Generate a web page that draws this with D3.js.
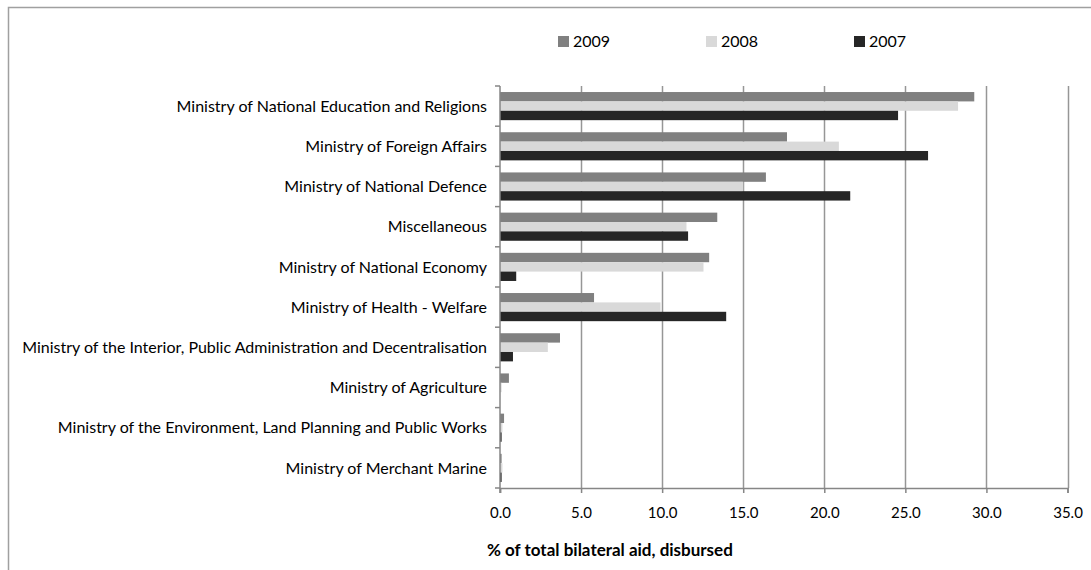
<!DOCTYPE html>
<html><head><meta charset="utf-8">
<script src="https://cdn.jsdelivr.net/npm/d3@7"></script>
<style>
body{margin:0;background:#fff;}
text{font-family:Lato,"Liberation Sans",Arial,sans-serif;}
</style></head>
<body><svg id="c" width="1091" height="570"></svg>
<script>
const categories = [
  "Ministry of National Education and Religions",
  "Ministry of Foreign Affairs",
  "Ministry of National Defence",
  "Miscellaneous",
  "Ministry of National Economy",
  "Ministry of Health - Welfare",
  "Ministry of the Interior, Public Administration and Decentralisation",
  "Ministry of Agriculture",
  "Ministry of the Environment, Land Planning and Public Works",
  "Ministry of Merchant Marine"
];
const seriesNames = ["2009", "2008", "2007"];
const values2009 = [29.25, 17.7, 16.4, 13.4, 12.9, 5.8, 3.7, 0.55, 0.25, 0.1];
const values2008 = [28.25, 20.9, 15.0, 11.5, 12.55, 9.9, 2.95, 0.1, 0.15, 0.15];
const values2007 = [24.55, 26.4, 21.6, 11.6, 1.0, 13.95, 0.8, 0.0, 0.1, 0.1];
const xTicks = [0, 5, 10, 15, 20, 25, 30, 35];
const colors = ["#808080", "#d9d9d9", "#262626"];
const xTitle = "% of total bilateral aid, disbursed";

(function(){
const series = [values2009, values2008, values2007];
const svg = d3.select("#c");

svg.append("path").attr("d","M8.5,570 L8.5,7.5 L1091,7.5").attr("fill","none").attr("stroke","#a0a0a0").attr("stroke-width",1.5);

const pL = 500, pR = 1067.5, pT = 86, pB = 488;
const x = d3.scaleLinear().domain([0, 35]).range([pL, pR]);
const y = d3.scaleBand().domain(categories).range([pT, pB]).paddingInner(0.3).paddingOuter(0.15);
const ys = d3.scaleBand().domain(seriesNames).range([0, y.bandwidth()]);
const yb = d3.scaleBand().domain(categories).range([pT, pB]);

svg.append("g").selectAll("line").data(xTicks.slice(1)).join("line")
  .attr("x1", d => Math.round(x(d)) + 0.5).attr("x2", d => Math.round(x(d)) + 0.5)
  .attr("y1", pT).attr("y2", pB)
  .attr("stroke", "#969696").attr("stroke-width", 1.5);

const g = svg.append("g");
series.forEach((vals, si) => {
  g.selectAll(null).data(categories).join("rect")
    .attr("x", x(0))
    .attr("y", c => y(c) + ys(seriesNames[si]))
    .attr("width", (c, i) => x(vals[i]) - x(0))
    .attr("height", ys.bandwidth())
    .attr("fill", colors[si]);
});

const xAxis = d3.axisBottom(x).tickValues(xTicks).tickFormat(d3.format(".1f")).tickSize(5).tickPadding(14);
const xg = svg.append("g").attr("transform", `translate(0,${pB})`).call(xAxis);
xg.select(".domain").attr("stroke", "#868686").attr("stroke-width", 1.5);
xg.selectAll(".tick line").attr("stroke", "#868686").attr("stroke-width", 1.5);
xg.selectAll(".tick text").attr("font-size", 15).attr("fill", "#000")
  .style("font-family", "Lato,'Liberation Sans',Arial,sans-serif");

svg.append("line").attr("x1", pL).attr("x2", pL).attr("y1", pT).attr("y2", pB + 5)
  .attr("stroke", "#868686").attr("stroke-width", 1.5);
const bounds = d3.range(categories.length + 1).map(i => pT + i * yb.step());
svg.append("g").selectAll("line").data(bounds).join("line")
  .attr("x1", pL - 5).attr("x2", pL).attr("y1", d => d).attr("y2", d => d)
  .attr("stroke", "#868686").attr("stroke-width", 1.5);

svg.append("g").selectAll("text").data(categories).join("text")
  .attr("x", 487).attr("y", c => yb(c) + yb.bandwidth() / 2)
  .attr("dy", "0.35em").attr("text-anchor", "end")
  .attr("font-size", 16).attr("fill", "#000").text(c => c);

svg.append("text").attr("x", 487).attr("y", 556).attr("font-size", 17).attr("font-weight", "bold")
  .text(xTitle);

const legX = [558, 706, 854];
const lg = svg.append("g").selectAll("g").data(seriesNames).join("g")
  .attr("transform", (d, i) => `translate(${legX[i]},36)`);
lg.append("rect").attr("width", 11).attr("height", 11).attr("fill", (d, i) => colors[i]);
lg.append("text").attr("x", 15).attr("y", 5.5).attr("dy", "0.36em").attr("font-size", 16).attr("fill", "#000").text(d => d);
})();
</script></body></html>
